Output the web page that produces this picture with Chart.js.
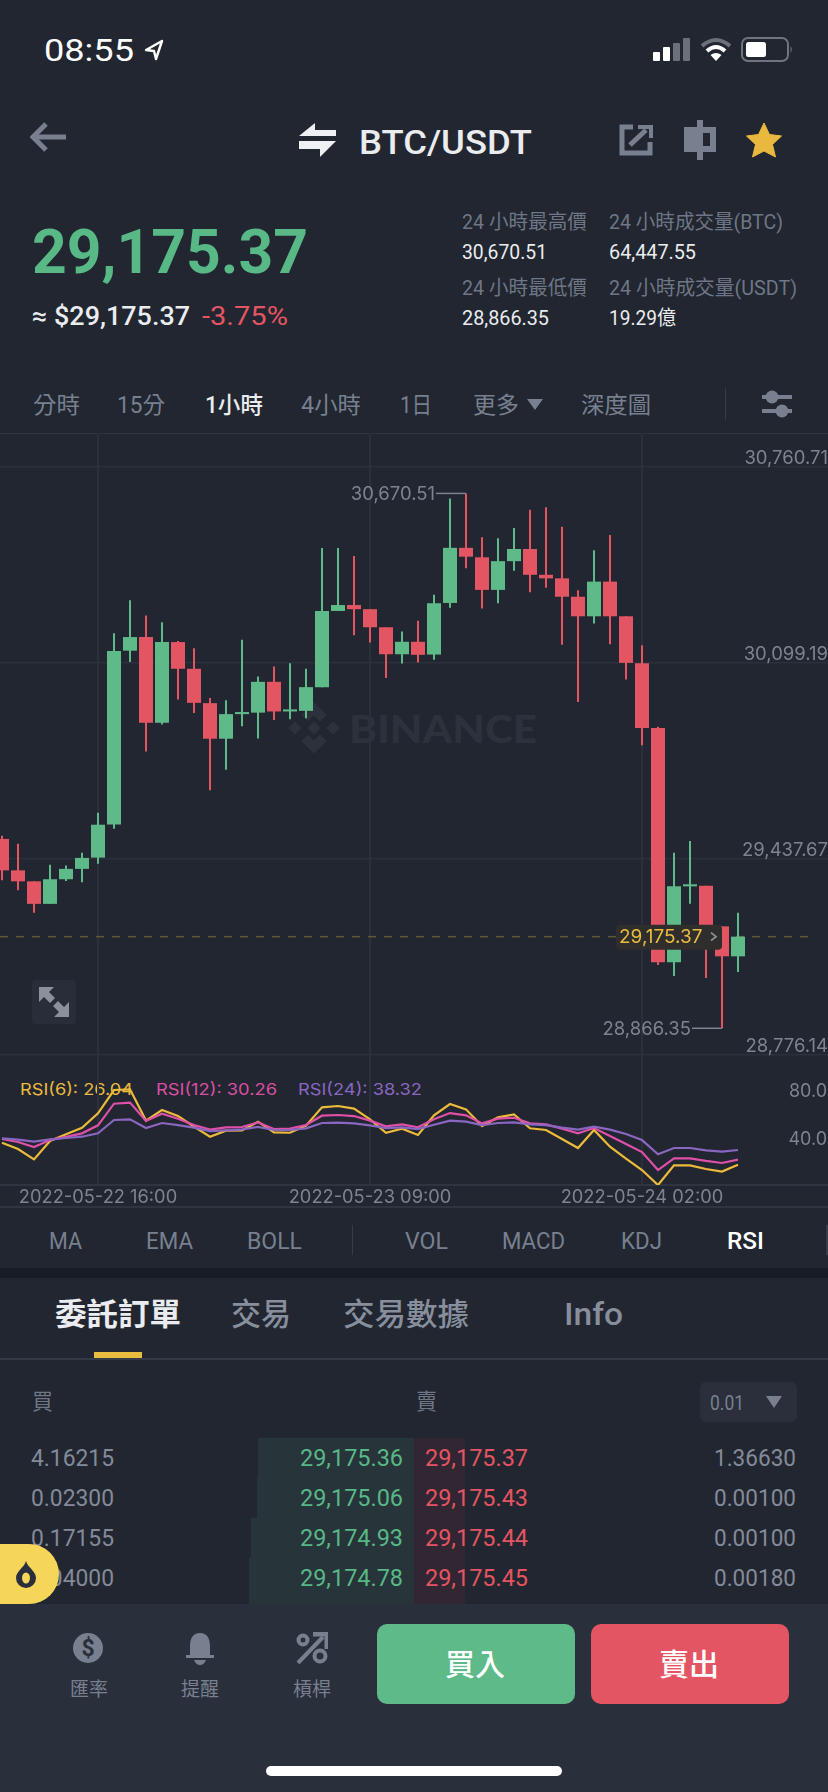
<!DOCTYPE html>
<html lang="zh-Hant">
<head>
<meta charset="UTF-8" />
<title>BTC/USDT</title>
<style>
  html, body { margin: 0; padding: 0; background: #212630; }
  #page { position: relative; width: 828px; height: 1792px; overflow: hidden; background: #212630; }
  #page > * { position: absolute; }
  .t { white-space: nowrap; transform-origin: left center; font-family: Roboto, "Noto Sans CJK TC", sans-serif; line-height: 1; }
  .foot { z-index: 2; }
  .over { z-index: 3; }
  canvas { left: 0; }
</style>
</head>
<body>
<div id="page">
  <!-- panels -->
  <div style="left:0;top:432.5px;width:828px;height:1.5px;background:#2f3440"></div>
  <div style="left:0;top:1206px;width:828px;height:1.5px;background:#2f3440"></div>
  <div style="left:0;top:1268px;width:828px;height:10px;background:#181c24"></div>
  <div style="left:0;top:1358px;width:828px;height:1.5px;background:#333945"></div>
  <div style="left:94px;top:1352px;width:48px;height:6px;background:#e9bb3f"></div>
  <div style="left:725px;top:388px;width:1px;height:32px;background:#363b47"></div>
  <div style="left:352px;top:1225px;width:1px;height:30px;background:#363b47"></div>
  <div style="left:826px;top:1225px;width:2px;height:30px;background:#363b47"></div>

  <!-- depth rows -->
  <div style="left:258px;top:1438px;width:155.5px;height:40px;background:#27343a"></div>
  <div style="left:257px;top:1478px;width:156.5px;height:40px;background:#27343a"></div>
  <div style="left:251px;top:1518px;width:162.5px;height:40px;background:#27343a"></div>
  <div style="left:249px;top:1558px;width:164.5px;height:46px;background:#27343a"></div>
  <div style="left:413.5px;top:1438px;width:51.5px;height:166px;background:#322632"></div>

  <!-- watermark under the candles -->
  <svg style="left:288px;top:702px" width="52" height="52" viewBox="0 0 52 52" fill="#2c313b" stroke="#2c313b" stroke-width="1">
    <path d="M26 1 L38 13 L32 19 L26 13 L20 19 L14 13 Z"/>
    <path d="M26 51 L38 39 L32 33 L26 39 L20 33 L14 39 Z"/>
    <path d="M1 26 L7 20 L13 26 L7 32 Z"/>
    <path d="M51 26 L45 20 L39 26 L45 32 Z"/>
    <path d="M26 20 L32 26 L26 32 L20 26 Z"/>
  </svg>

  <canvas id="candles" width="828" height="624" style="top:433px"></canvas>
  <canvas id="rsi" width="828" height="152" style="top:1055px"></canvas>

  <!-- status bar -->
  <svg style="left:144px;top:39px" width="20" height="22" viewBox="0 0 20 22" fill="none" stroke="#fff" stroke-width="2.4" stroke-linejoin="round">
    <path d="M18 2 L2 11 L10 12 L12 20 Z"/>
  </svg>
  <svg style="left:653px;top:37px" width="38" height="25" viewBox="0 0 38 25">
    <rect x="0" y="15" width="7" height="9" rx="1" fill="#fff"/>
    <rect x="10" y="10" width="7" height="14" rx="1" fill="#fff"/>
    <rect x="20" y="6" width="7" height="18" rx="1" fill="#6b7079"/>
    <rect x="30" y="1" width="7" height="23" rx="1" fill="#6b7079"/>
  </svg>
  <svg style="left:700px;top:37px" width="32" height="25" viewBox="0 0 32 25" fill="none" stroke-linecap="butt">
    <path d="M2 9 Q16 -3 30 9" stroke="#6b7079" stroke-width="4"/>
    <path d="M7 14 Q16 6 25 14" stroke="#fff" stroke-width="4"/>
    <path d="M16 24 L10.5 18 Q16 14 21.5 18 Z" fill="#fff"/>
  </svg>
  <svg style="left:741px;top:36px" width="52" height="27" viewBox="0 0 52 27">
    <rect x="1" y="2" width="46" height="23" rx="6" fill="none" stroke="#6f747d" stroke-width="2"/>
    <rect x="5" y="6" width="20" height="15" rx="2.5" fill="#fff"/>
    <path d="M49.5 10 Q52 13.5 49.5 17 Z" fill="#6f747d"/>
  </svg>

  <!-- header icons -->
  <svg style="left:30px;top:122px" width="38" height="30" viewBox="0 0 38 30" fill="none" stroke="#78808f" stroke-width="5">
    <path d="M36 15 H4"/><path d="M16 2 L3 15 L16 28"/>
  </svg>
  <svg style="left:299px;top:123px" width="40" height="34" viewBox="0 0 40 34" fill="#eef0f3">
    <path d="M0 13 L16 0 V7 H37 V13 Z"/><path d="M0 18 H37 L21 34 V26 H0 Z"/>
  </svg>
  <svg style="left:619px;top:124px" width="34" height="32" viewBox="0 0 34 32" fill="none" stroke="#78808f" stroke-width="5">
    <path d="M14 3 H3 V29 H31 V18"/><path d="M11 21 L27 6"/><path d="M19 3 H32 V14" stroke-width="4"/>
  </svg>
  <svg style="left:684px;top:120px" width="32" height="40" viewBox="0 0 32 40">
    <rect x="0" y="7" width="32" height="25" fill="#78808f"/>
    <rect x="13" y="0" width="6" height="40" fill="#78808f"/>
    <rect x="19" y="13" width="7" height="13" fill="#212630"/>
  </svg>
  <svg style="left:746px;top:122px" width="36" height="36" viewBox="0 0 36 36">
    <path d="M18 1 L23.5 12.5 L35.5 14 L26.5 22.5 L29.5 35 L18 29 L6.5 35 L9.5 22.5 L0.5 14 L12.5 12.5 Z" fill="#e9b93f" stroke="#e9b93f" stroke-linejoin="round"/>
  </svg>

  <!-- interval row icons -->
  <svg style="left:527px;top:399px" width="16" height="11" viewBox="0 0 16 11"><path d="M0 0 H16 L8 11 Z" fill="#78808f"/></svg>
  <svg style="left:762px;top:390px" width="30" height="28" viewBox="0 0 30 28" fill="#78808f">
    <rect x="0" y="5" width="30" height="4"/><circle cx="10" cy="7" r="6.5"/>
    <rect x="0" y="19" width="30" height="4"/><circle cx="20" cy="21" r="6.5"/>
  </svg>

  <!-- expand button -->
  <svg style="left:32px;top:980px;z-index:1" width="44" height="44" viewBox="0 0 44 44">
    <rect width="44" height="44" rx="4" fill="#282d39"/>
    <path d="M7 7 H22 L17 12 L23 18 L18 23 L12 17 L7 22 Z M37 37 H22 L27 32 L21 26 L26 21 L32 27 L37 22 Z" fill="#8b909b"/>
  </svg>

  <!-- order book header -->
  <div style="left:700px;top:1382px;width:97px;height:40px;border-radius:6px;background:#2a2f3b"></div>
  <svg style="left:766px;top:1396px" width="16" height="12" viewBox="0 0 16 12"><path d="M0 0 H16 L8 12 Z" fill="#78808f"/></svg>

  <!-- footer -->
  <div class="foot" style="left:0;top:1604px;width:828px;height:188px;background:#2a2f3c"></div>
  <div class="over" style="left:0;top:1544px;width:59px;height:60px;background:#f6d659;border-radius:0 30px 30px 0"></div>
  <svg class="over" style="left:15px;top:1560px" width="22" height="28" viewBox="0 0 22 28">
    <path d="M11 1 C13 8 21 11 21 18 A10 10 0 0 1 1 18 C1 11 9 8 11 1 Z" fill="#2a2f3c"/>
    <ellipse cx="11" cy="18" rx="4" ry="5.5" fill="#f6d659"/>
  </svg>
  <div class="over" style="left:376.5px;top:1624px;width:198px;height:80px;border-radius:10px;background:#5eba89"></div>
  <div class="over" style="left:590.5px;top:1624px;width:198px;height:80px;border-radius:10px;background:#e45563"></div>
  <div class="over" style="left:266px;top:1766px;width:296px;height:10px;border-radius:5px;background:#fff"></div>
  <svg class="over" style="left:73px;top:1633px" width="30" height="30" viewBox="0 0 30 30">
    <circle cx="15" cy="15" r="15" fill="#78808f"/>
    <text x="15" y="23" text-anchor="middle" font-family="Roboto" font-weight="700" font-size="23" fill="#2a2f3c">$</text>
  </svg>
  <svg class="over" style="left:186px;top:1633px" width="28" height="32" viewBox="0 0 28 32" fill="#78808f">
    <path d="M14 0 C22 0 24 7 24 13 V22 H28 V25 H0 V22 H4 V13 C4 7 6 0 14 0 Z"/>
    <path d="M8 27 H20 Q18 32 14 32 Q10 32 8 27 Z"/>
  </svg>
  <svg class="over" style="left:296px;top:1632px" width="32" height="32" viewBox="0 0 32 32" fill="none" stroke="#78808f" stroke-width="4">
    <circle cx="7" cy="8" r="4.5"/><circle cx="24" cy="24" r="5.5"/>
    <path d="M2 31 L27 5"/><path d="M17 2 H31 V17" stroke-width="5"/>
  </svg>
</div>

<script src="https://cdn.jsdelivr.net/npm/chart.js@4/dist/chart.umd.min.js"></script>
<script>
// candles, 1 hour
const opens = [29505,29399,29362,29286,29369,29404,29442,29554,30140,30186,29897,30169,30079,29963,29843,29926,29931,30035,29935,29937,30017,30274,30294,30280,30219,30128,30170,30127,30301,30487,30455,30345,30442,30483,30396,30384,30322,30256,30373,30256,30098,29879,29089,29345,29347,29210,29109];
const highs = [29516,29489,29362,29418,29415,29458,29593,30199,30310,30259,30236,30173,30148,29980,29973,30177,30053,30087,30098,30079,30486,30486,30459,30280,30219,30205,30241,30329,30653,30670.51,30523,30519,30554,30615,30624,30558,30344,30479,30530,30256,30158,29883,29458,29498,29347,29210,29256];
const lows = [29366,29332,29256,29286,29363,29359,29421,29539,30102,29800,29891,29975,29930,29669,29738,29885,29844,29906,29909,29912,30017,30274,30192,30168,30048,30097,30100,30109,30285,30418,30282,30300,30410,30337,30352,30160,29967,30232,30162,30043,29821,29080,29043,29286,29036,28866.35,29056];
const closes = [29399,29362,29286,29369,29404,29441,29553,30139,30186,29897,30169,30079,29964,29843,29926,29933,30035,29935,29942,30017,30274,30294,30280,30219,30128,30170,30126,30300,30487,30457,30345,30442,30483,30396,30384,30322,30256,30373,30256,30099,29879,29089,29345,29352,29210,29109,29175.37];

const priceTicks = [30760.71, 30099.19, 29437.67, 28776.14];
const timeTickIndex = [6, 23, 40];
const timeTickLabels = ["2022-05-22 16:00", "2022-05-23 09:00", "2022-05-24 02:00"];

const rsi6 = [44.4,39.1,30.5,45.8,51.4,56.9,68.9,88.3,88.9,62.8,71.6,66.6,57.8,49.4,54.4,54.7,61.9,53.0,52.7,58.6,73.9,75.0,72.8,63.9,52.7,56.1,50.8,67.2,76.6,72.2,58.3,65.5,68.0,56.4,55.0,47.5,40.0,55.0,41.1,31.1,21.6,9.1,25.5,25.5,22.5,20.3,26.04];
const rsi12 = [47.5,45.0,40.8,46.6,49.2,52.2,58.9,76.9,77.8,62.5,68.6,64.4,59.1,55.3,57.2,57.5,61.4,55.8,56.1,59.1,66.9,67.5,66.6,62.8,58.0,59.7,57.2,63.9,69.1,67.2,60.5,64.4,65.2,60.5,59.7,56.1,52.2,56.6,50.0,43.3,36.6,21.6,31.4,31.4,29.2,27.5,30.26];
const rsi24 = [48.0,46.9,45.3,47.2,48.3,49.4,52.2,63.3,63.9,56.6,60.8,59.1,56.9,54.1,54.7,55.5,57.5,55.0,55.0,56.4,60.8,61.1,60.5,58.9,56.6,57.2,55.8,59.4,62.8,61.9,59.1,60.8,61.4,59.7,59.1,56.9,55.3,57.8,55.3,51.6,46.6,34.7,40.0,40.0,38.0,36.9,38.32];
const rsiTicks = [80, 40];

const GREEN = "#5eba89";
const RED = "#e45563";
const GRID = "#2b303b";
const AXIS_TEXT = "#7d8390";
const CHART_FONT = "Inter";

const money = v => v.toLocaleString("en-US", { minimumFractionDigits: 2, maximumFractionDigits: 2 });
const colors = opens.map((o, i) => (closes[i] >= o ? GREEN : RED));
const xMin = -0.125, xMax = 51.625;

function xAxis(extra) {
  return Object.assign({
    type: "linear", min: xMin, max: xMax, offset: false,
    afterBuildTicks: a => { a.ticks = timeTickIndex.map(v => ({ value: v })); },
    grid: { color: GRID, lineWidth: 2, drawTicks: false, offset: false },
  }, extra);
}

function flatY(a) {
  a.width = 0;
  a.paddingTop = 0;
  a.paddingBottom = 0;
}

// high / low markers, last price line and tag
const overlays = {
  id: "overlays",
  beforeDatasetsDraw(chart) {
    const { ctx, scales: { y } } = chart;
    const py = y.getPixelForValue(closes[closes.length - 1]);
    ctx.save();
    ctx.strokeStyle = "#5f5a36";
    ctx.lineWidth = 1.5;
    ctx.setLineDash([8, 8]);
    ctx.beginPath();
    ctx.moveTo(0, py);
    ctx.lineTo(808, py);
    ctx.stroke();
    ctx.restore();
  },
  afterDatasetsDraw(chart) {
    const { ctx, scales: { x, y } } = chart;
    ctx.save();
    ctx.font = "18.5px " + CHART_FONT;
    ctx.textBaseline = "middle";
    ctx.textAlign = "right";
    const marker = (val, i) => {
      const px = x.getPixelForValue(i), py = y.getPixelForValue(val);
      ctx.strokeStyle = "#7d8390";
      ctx.lineWidth = 1.5;
      ctx.beginPath();
      ctx.moveTo(px, py);
      ctx.lineTo(px - 30, py);
      ctx.stroke();
      ctx.fillStyle = "#7d8390";
      ctx.fillText(money(val), px - 31, py + 1);
    };
    const hi = Math.max(...highs), lo = Math.min(...lows);
    marker(hi, highs.indexOf(hi));
    marker(lo, lows.indexOf(lo));

    const last = closes[closes.length - 1];
    const py = y.getPixelForValue(last);
    ctx.fillStyle = "#2f2e2c";
    ctx.beginPath();
    ctx.roundRect(616, py - 12, 106, 25, 4);
    ctx.fill();
    ctx.fillStyle = "#e9bb3f";
    ctx.textAlign = "left";
    ctx.font = "19px " + CHART_FONT;
    ctx.fillText(money(last), 619, py + 1);
    ctx.strokeStyle = "#8b909b";
    ctx.lineWidth = 1.8;
    ctx.beginPath();
    ctx.moveTo(711, py - 4);
    ctx.lineTo(716, py);
    ctx.lineTo(711, py + 4);
    ctx.stroke();
    ctx.restore();
  },
};

new Chart(document.getElementById("candles"), {
  type: "bar",
  data: {
    datasets: [
      { data: highs.map((h, i) => ({ x: i, y: [lows[i], h] })), maxBarThickness: 2, backgroundColor: colors },
      { data: opens.map((o, i) => ({ x: i, y: [o, closes[i]] })), maxBarThickness: 14, backgroundColor: colors },
    ],
  },
  options: {
    responsive: false,
    animation: false,
    devicePixelRatio: 1,
    layout: { padding: { bottom: 2 } },
    datasets: { bar: { grouped: false, barPercentage: 1, categoryPercentage: 1, inflateAmount: 0, borderWidth: 0 } },
    plugins: { legend: { display: false }, tooltip: { enabled: false } },
    scales: {
      x: xAxis({ ticks: { display: false }, border: { display: false }, afterFit: a => { a.height = 0; } }),
      y: {
        position: "right",
        min: 28776.14, max: 30874.3,
        afterBuildTicks: a => { a.ticks = priceTicks.map(v => ({ value: v })); },
        afterFit: flatY,
        border: { display: false },
        grid: { color: GRID, lineWidth: 1.5, drawTicks: false },
        ticks: {
          mirror: true, padding: 0, labelOffset: -8.5, autoSkip: false,
          color: AXIS_TEXT, font: { family: CHART_FONT, size: 18.5 },
          callback: v => money(v),
        },
      },
    },
  },
  plugins: [overlays],
});

new Chart(document.getElementById("rsi"), {
  type: "line",
  data: {
    datasets: [
      { data: rsi24.map((v, i) => ({ x: i, y: v })), borderColor: "#8a66c0" },
      { data: rsi12.map((v, i) => ({ x: i, y: v })), borderColor: "#e04fa8" },
      { data: rsi6.map((v, i) => ({ x: i, y: v })), borderColor: "#edbb3b" },
    ],
  },
  options: {
    responsive: false,
    animation: false,
    devicePixelRatio: 1,
    datasets: { line: { borderWidth: 2.2, pointRadius: 0, tension: 0 } },
    plugins: { legend: { display: false }, tooltip: { enabled: false } },
    scales: {
      x: xAxis({
        afterFit: a => { a.height = 22; },
        border: { display: true, color: "#2f3440", width: 2 },
        ticks: {
          autoSkip: false, maxRotation: 0, padding: 2,
          color: AXIS_TEXT, font: { family: CHART_FONT, size: 18.3 },
          callback: v => timeTickLabels[timeTickIndex.indexOf(v)],
        },
      }),
      y: {
        position: "right",
        min: 9.15, max: 117.49,
        afterBuildTicks: a => { a.ticks = rsiTicks.map(v => ({ value: v })); },
        afterFit: flatY,
        border: { display: false },
        grid: { display: false },
        ticks: {
          mirror: true, padding: -1, labelOffset: -8.5, autoSkip: false,
          color: AXIS_TEXT, font: { family: CHART_FONT, size: 18 },
          callback: v => v.toFixed(1),
        },
      },
    },
  },
});

// page text: label(text, left, centre y, width, size, colour, weight, font)
const page = document.getElementById("page");
function label(text, x, yc, w, size, color, weight, font) {
  const el = document.createElement("div");
  el.className = "t";
  el.textContent = text;
  el.style.left = x + "px";
  el.style.fontSize = size + "px";
  el.style.color = color;
  if (weight) el.style.fontWeight = weight;
  if (font) el.style.fontFamily = font;
  page.appendChild(el);
  const real = el.getBoundingClientRect();
  el.style.top = (yc - real.height / 2) + "px";
  el.style.transform = "scaleX(" + (w / real.width) + ")";
  return el;
}

const GRAY = "#6f7685", QTY = "#848a99", TAB = "#78808f", SOFT = "#eaecef";

label("BINANCE", 349, 728, 188, 38, "#2c313b", 900, "Lato").style.zIndex = 0;
document.getElementById("candles").style.zIndex = 1;
document.getElementById("rsi").style.zIndex = 1;

label("08:55", 44, 50, 90, 31, "#fff", 400);
label("BTC/USDT", 359, 142, 173, 33, SOFT, 500);
label("29,175.37", 32, 252, 276, 61, "#58b886", 700);
label("≈ $29,175.37", 32, 316, 158, 26, SOFT, 500);
label("-3.75%", 202, 316, 86, 26, RED, 400);

label("24 小時最高價", 462, 222, 125, 20, GRAY);
label("24 小時成交量(BTC)", 609, 222, 174, 20, GRAY);
label("30,670.51", 462, 252, 85, 20, SOFT);
label("64,447.55", 609, 252, 87, 20, SOFT);
label("24 小時最低價", 462, 288, 125, 20, GRAY);
label("24 小時成交量(USDT)", 609, 288, 188, 20, GRAY);
label("28,866.35", 462, 318, 87, 20, SOFT);
label("19.29億", 609, 318, 67, 20, SOFT);

label("分時", 33, 405, 47, 23, TAB);
label("15分", 117, 405, 48, 23, TAB);
label("1小時", 205, 405, 58, 23, SOFT, 500);
label("4小時", 301, 405, 60, 23, TAB);
label("1日", 400, 405, 32, 23, TAB);
label("更多", 473, 405, 46, 23, TAB);
label("深度圖", 581, 405, 70, 23, TAB);

label("RSI(6): 26.04", 20, 1089, 113, 16.5, "#e9bb3f", 400, CHART_FONT);
label("RSI(12): 30.26", 156, 1089, 121, 16.5, "#d94fa3", 400, CHART_FONT);
label("RSI(24): 38.32", 298, 1089, 124, 16.5, "#8a66c0", 400, CHART_FONT);

label("MA", 49, 1241, 33, 23, TAB);
label("EMA", 146, 1241, 47, 23, TAB);
label("BOLL", 247, 1241, 55, 23, TAB);
label("VOL", 405, 1241, 43, 23, TAB);
label("MACD", 502, 1241, 63, 23, TAB);
label("KDJ", 621, 1241, 41, 23, TAB);
label("RSI", 727, 1241, 37, 23, "#fff", 500);

label("委託訂單", 55, 1314, 126, 31, SOFT, 700);
label("交易", 231, 1314, 60, 31, "#878e9c", 500);
label("交易數據", 343, 1314, 126, 31, "#878e9c", 500);
label("Info", 564, 1314, 59, 31, "#878e9c", 500);

label("買", 32, 1402, 21, 22, GRAY);
label("賣", 415.5, 1402, 21, 22, GRAY);
label("0.01", 710, 1403, 34, 20, TAB);

const rows = [
  ["4.16215", "29,175.36", "29,175.37", "1.36630", 1458],
  ["0.02300", "29,175.06", "29,175.43", "0.00100", 1498],
  ["0.17155", "29,174.93", "29,175.44", "0.00100", 1538],
  ["0.04000", "29,174.78", "29,175.45", "0.00180", 1578],
];
rows.forEach(r => {
  label(r[0], 31, r[4], 83, 24, QTY);
  label(r[1], 300, r[4], 103, 24, "#58b886");
  label(r[2], 425, r[4], 103, 24, RED);
  label(r[3], 714, r[4], 82, 24, QTY);
});

// footer text sits above the footer panel
[
  label("匯率", 70, 1689, 38, 19, TAB),
  label("提醒", 181, 1689, 38, 19, TAB),
  label("槓桿", 293, 1689, 38, 19, TAB),
  label("買入", 445, 1665, 60, 30, "#fff", 500),
  label("賣出", 659, 1665, 60, 30, "#fff", 500),
].forEach(el => { el.style.zIndex = 4; });
</script>
</body>
</html>
